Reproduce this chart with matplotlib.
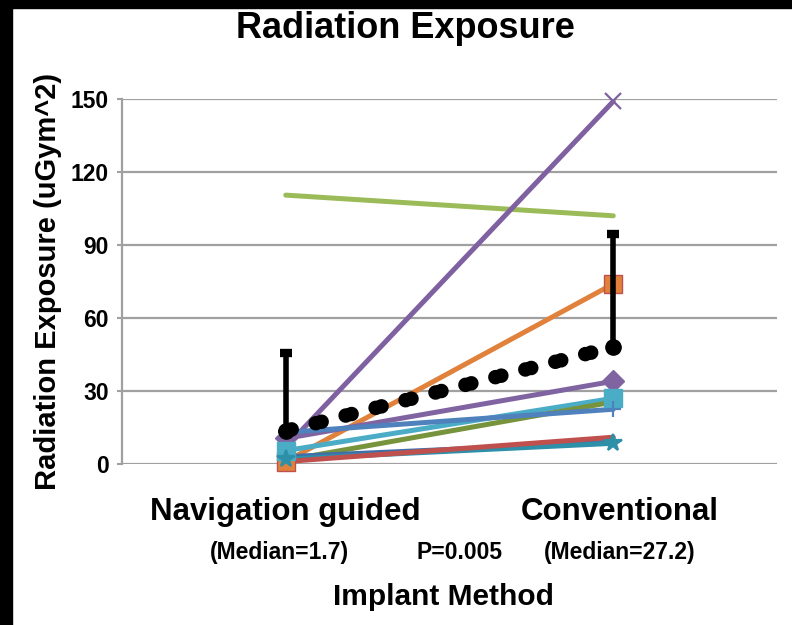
import numpy as np
import matplotlib
matplotlib.use("Agg")
import matplotlib.pyplot as plt
from matplotlib.patches import Rectangle

plt.rcParams["font.family"] = ["Liberation Sans Narrow", "Liberation Sans", "DejaVu Sans"]
plt.rcParams["font.weight"] = "bold"

# data
categories = ["Navigation guided", "Conventional"]
medians = ["(Median=1.7)", "(Median=27.2)"]
p_text = "P=0.005"

series_colors = ["#9BBB59", "#7F60A0", "#E0823C", "#8064A2", "#4BACC6",
                 "#77933C", "#4F81BD", "#3F6FA8", "#2E8FA8", "#C0504D"]
series_values = [
    [110.5, 102.0],
    [7.0, 149.0],
    [1.0, 74.0],
    [10.5, 34.0],
    [5.5, 27.0],
    [1.5, 25.5],
    [13.0, 22.5],
    [3.0, 9.0],
    [2.0, 8.5],
    [1.0, 11.0],
]
series_markers = [None, "x", "s", "D", "s", None, "+", None, "*", None]

mean_values = [13.6, 48.1]
mean_err_up = [32.0, 46.4]

fig = plt.figure(figsize=(7.92, 6.25), dpi=100)
ax = fig.add_axes([122 / 792, 1 - 464 / 625, 655 / 792, 365 / 625])

x = np.arange(len(categories))
for vals, col, mk in zip(series_values, series_colors, series_markers):
    ax.plot(x, vals, color=col, linewidth=3.6, solid_capstyle="round", zorder=3)
    if mk is not None:
        edge = "#C0504D" if mk == "s" and col == "#E0823C" else col
        size = {"x": 12, "s": 13, "D": 11, "+": 12, "*": 13}[mk]
        ax.plot(x, vals, linestyle="none", marker=mk, markersize=size,
                markerfacecolor=col, markeredgecolor=edge,
                markeredgewidth=1.6 if mk in ("x", "+", "*") else 1, zorder=4,
                clip_on=False)

# mean with upward error bars
ax.errorbar(x, mean_values, yerr=[[0, 0], mean_err_up], fmt="none", ecolor="black",
            elinewidth=4, capsize=4.5, capthick=6, zorder=5)
ax.plot(x, mean_values, color="black", linewidth=10.5, linestyle=(0, (0.01, 0.4, 0.01, 1.7)),
        dash_capstyle="round", zorder=6)
ax.plot(x, mean_values, linestyle="none", marker="o", markersize=11, color="black", zorder=6)

ax.set_xlim(-0.5, 1.5)
ax.set_ylim(0, 150)
ax.set_yticks([0, 30, 60, 90, 120, 150])
ax.set_xticks([])
ax.tick_params(axis="y", length=3.5, width=1.5, color="#A0A0A0", labelsize=16.5, pad=6)
ax.grid(axis="y", color="#A0A0A0", linewidth=1.6)
ax.set_axisbelow(True)
for s in ["top", "right", "bottom"]:
    ax.spines[s].set_visible(False)
ax.spines["left"].set_color("#A0A0A0")
ax.spines["left"].set_linewidth(1.6)

ax.set_ylabel("Radiation Exposure (uGym^2)", fontsize=21, fontweight="bold", labelpad=6)

# category labels and annotations
for xi, cat, med, dx in zip(x, categories, medians, [0.0, 0.02]):
    ax.text(xi + dx, -19.7, cat, ha="center", va="center", fontsize=22.5, fontweight="bold",
            clip_on=False)
    ax.text(xi - 0.02 + 2 * dx, -36.2, med, ha="center", va="center", fontsize=16.5,
            fontweight="bold", clip_on=False)
ax.text(0.53, -36.2, p_text, ha="center", va="center", fontsize=16.5, fontweight="bold",
        clip_on=False)
fig.text(443 / 792, 1 - 597 / 625, "Implant Method", ha="center", va="center",
         fontsize=21.5, fontweight="bold")
fig.text(405 / 792, 1 - 38 / 625, "Radiation Exposure", ha="center", va="baseline",
         fontsize=26, fontweight="bold")

# black frame strips on the top and left edges
fig.patches.append(Rectangle((0, 0), 12 / 792, 1, transform=fig.transFigure, color="black"))
fig.patches.append(Rectangle((0, 1 - 8 / 625), 1, 8 / 625, transform=fig.transFigure, color="black"))

fig.savefig("out.png", dpi=100)
